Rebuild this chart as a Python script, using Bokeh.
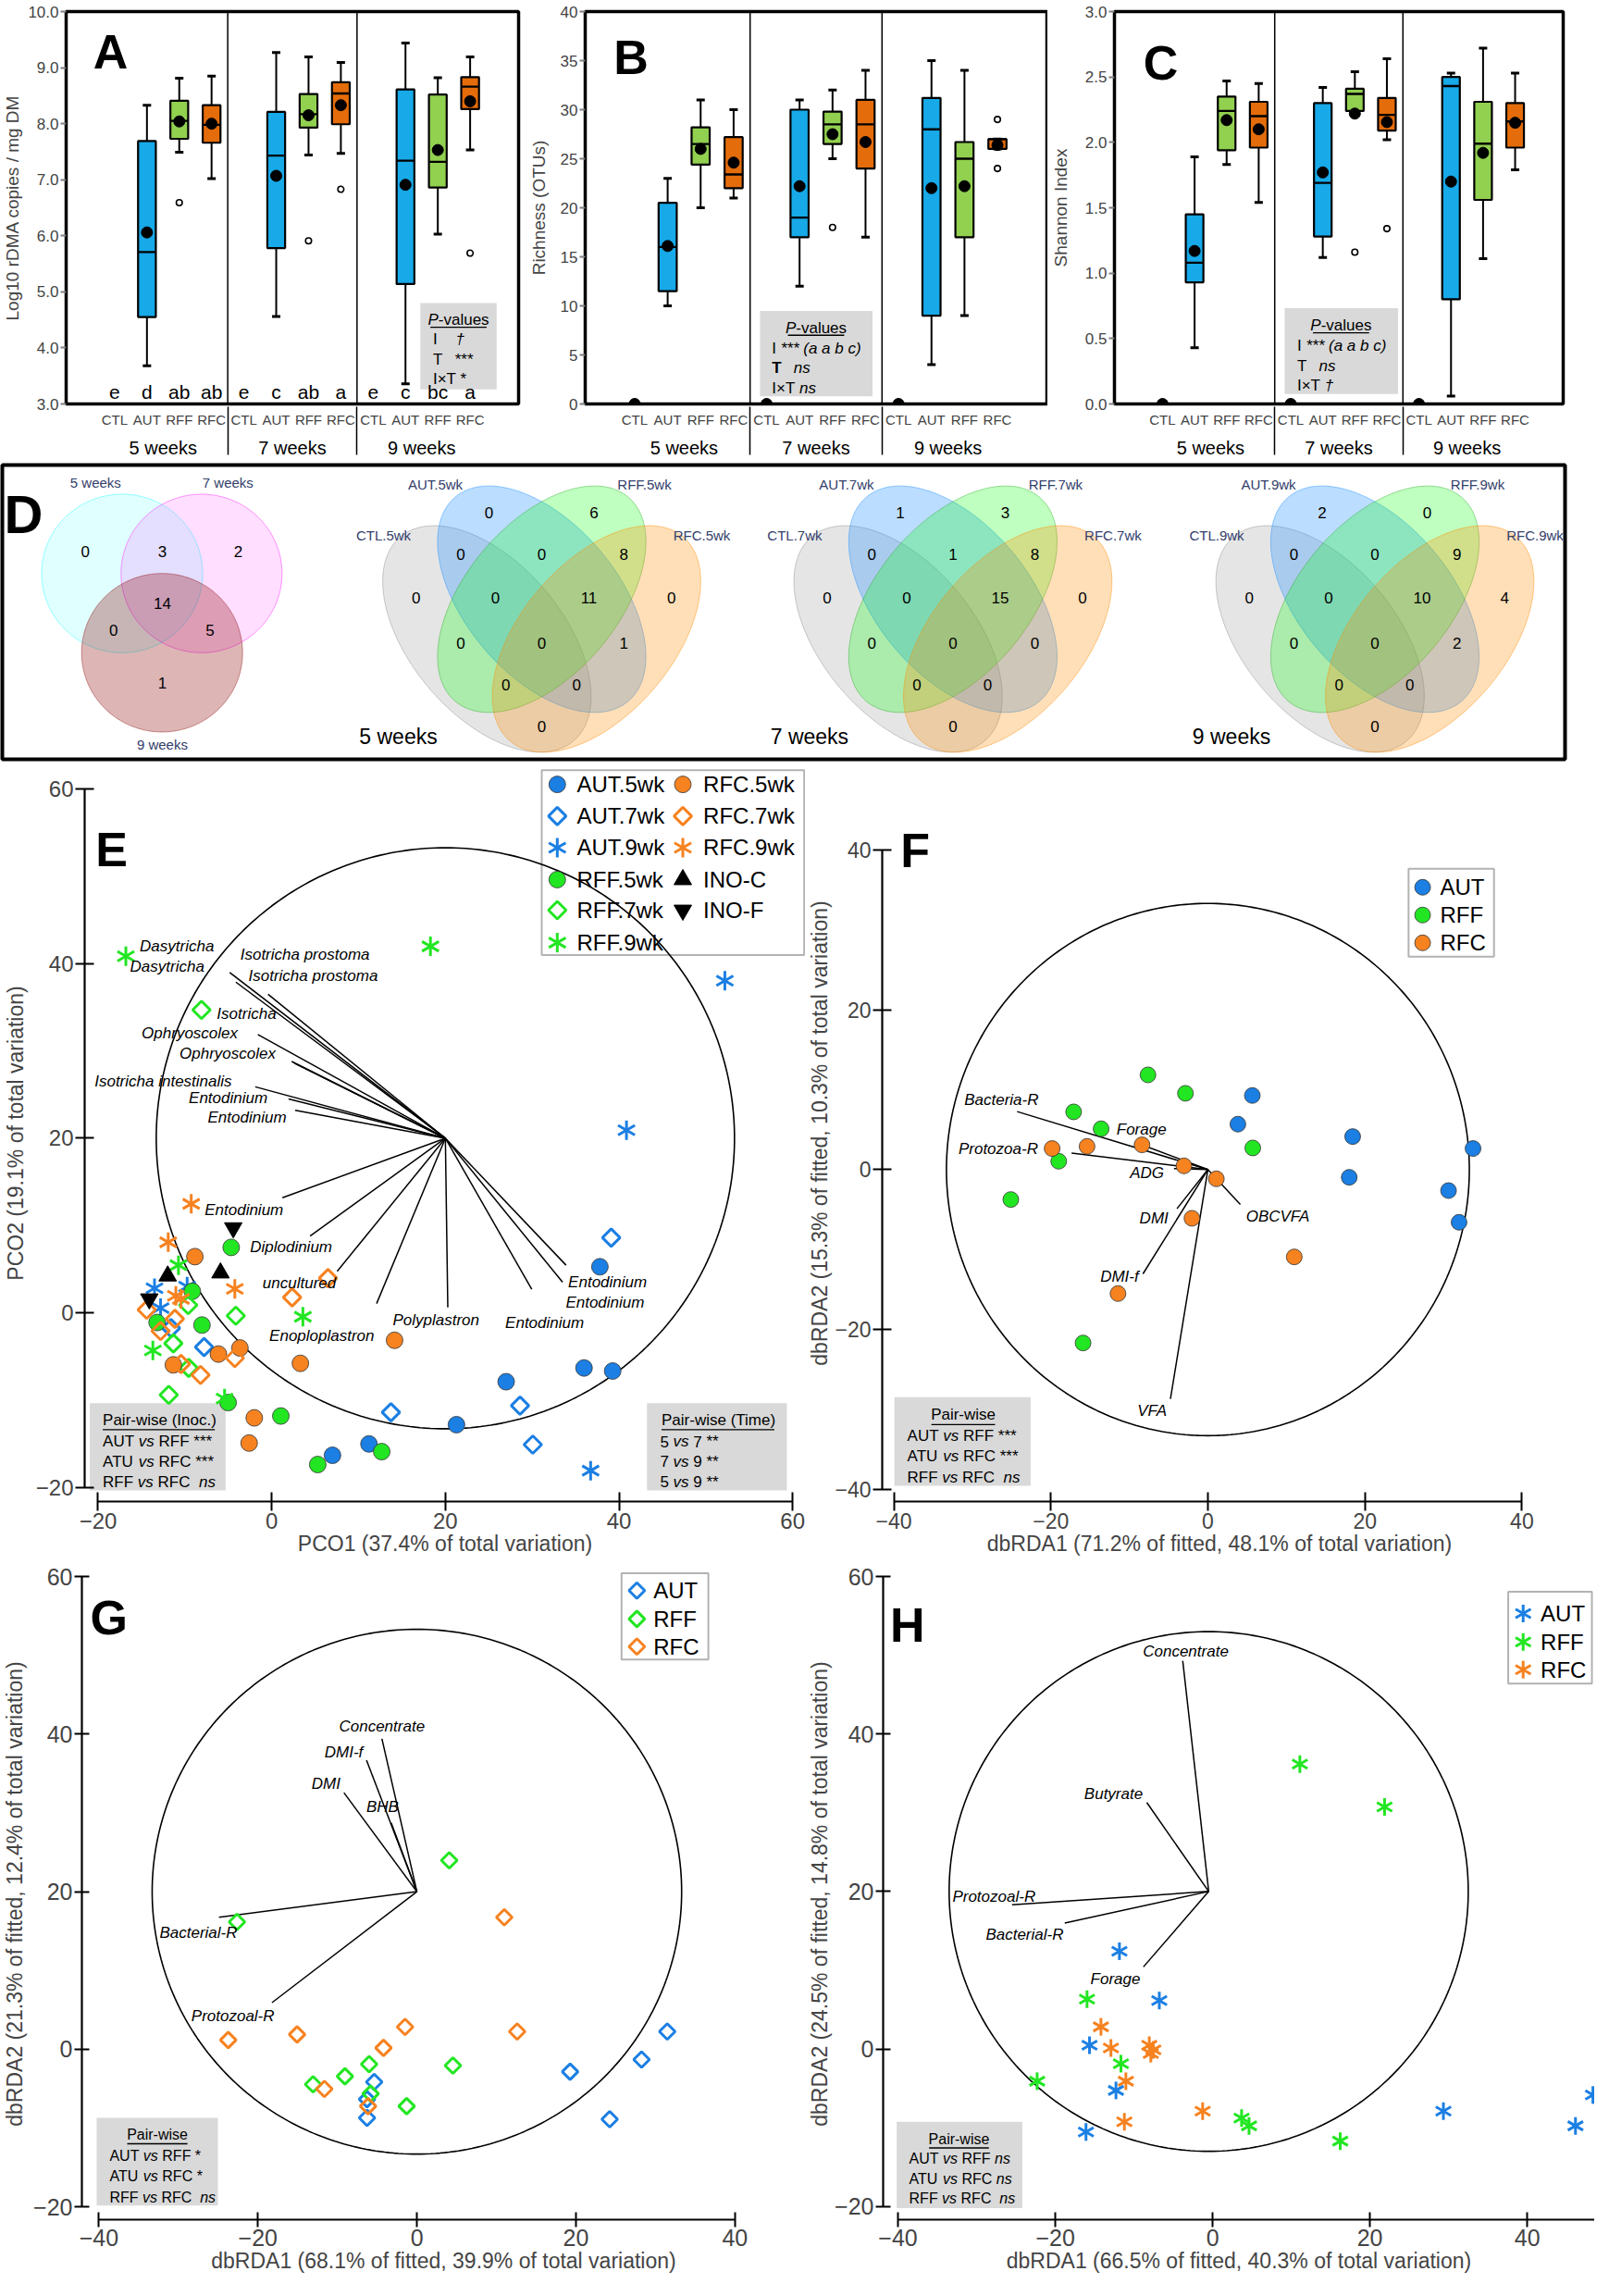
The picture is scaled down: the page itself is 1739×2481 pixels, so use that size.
import numpy as np
from bokeh.plotting import figure
from bokeh.models import (FactorRange, Range1d, FixedTicker, Span, BoxAnnotation,
                          NumeralTickFormatter, ColumnDataSource)
from bokeh.layouts import column, row
from bokeh.embed import file_html
from bokeh.resources import INLINE
from bokeh.core.properties import value

FONT = "Liberation Sans"

# ============================ DATA ============================
WEEKS = ["5 weeks", "7 weeks", "9 weeks"]
GROUPS = ["CTL", "AUT", "RFF", "RFC"]
BOX_GROUPS = ["AUT", "RFF", "RFC"]

# Panel A (order: 5wk AUT,RFF,RFC | 7wk AUT,RFF,RFC | 9wk AUT,RFF,RFC)
A_LO = [3.68, 7.49, 7.02, 4.56, 7.44, 7.47, 3.36, 6.03, 7.53]
A_Q1 = [4.55, 7.73, 7.66, 5.78, 7.93, 7.99, 5.14, 6.86, 8.26]
A_MED = [5.71, 8.05, 7.98, 7.43, 8.17, 8.54, 7.34, 7.32, 8.66]
A_Q3 = [7.69, 8.41, 8.33, 8.21, 8.53, 8.74, 8.61, 8.52, 8.83]
A_HI = [8.33, 8.81, 8.85, 9.27, 9.19, 9.09, 9.44, 8.82, 9.19]
A_MEAN = [6.06, 8.04, 8.00, 7.07, 8.15, 8.33, 6.91, 7.53, 8.40]
A_OUT_WEEK = ["5 weeks", "7 weeks", "7 weeks", "9 weeks"]
A_OUT_GROUP = ["RFF", "RFF", "RFC", "RFC"]
A_OUT_VAL = [6.59, 5.91, 6.83, 5.69]
A_LETTERS = ["e", "d", "ab", "ab", "e", "c", "ab", "a", "e", "c", "bc", "a"]

# Panel B
B_LO = [10, 20, 21, 12, 25, 17, 4, 9, 26]
B_Q1 = [11.5, 24.4, 22.0, 17.0, 26.5, 24.0, 9.0, 17.0, 26.0]
B_MED = [16.0, 26.5, 23.4, 19.0, 28.5, 28.5, 28.0, 25.0, 27.0]
B_Q3 = [20.5, 28.2, 27.2, 30.0, 29.8, 31.0, 31.2, 26.7, 27.0]
B_HI = [23, 31, 30, 31, 32, 34, 35, 34, 27]
B_MEAN = [16.1, 26.0, 24.6, 22.2, 27.5, 26.7, 22.0, 22.2, 26.4]
B_OUT_WEEK = ["7 weeks", "9 weeks", "9 weeks"]
B_OUT_GROUP = ["RFF", "RFC", "RFC"]
B_OUT_VAL = [18, 29, 24]
B_CTL = [0, 0, 0]

# Panel C
C_LO = [0.43, 1.83, 1.54, 1.12, 2.22, 2.02, 0.06, 1.11, 1.79]
C_Q1 = [0.93, 1.94, 1.96, 1.28, 2.24, 2.09, 0.80, 1.56, 1.96]
C_MED = [1.08, 2.24, 2.20, 1.69, 2.37, 2.21, 2.43, 1.99, 2.16]
C_Q3 = [1.45, 2.35, 2.31, 2.30, 2.41, 2.34, 2.50, 2.31, 2.30]
C_HI = [1.89, 2.47, 2.45, 2.42, 2.54, 2.64, 2.53, 2.72, 2.53]
C_MEAN = [1.17, 2.17, 2.10, 1.77, 2.22, 2.155, 1.70, 1.92, 2.15]
C_OUT_WEEK = ["7 weeks", "7 weeks"]
C_OUT_GROUP = ["RFF", "RFC"]
C_OUT_VAL = [1.16, 1.34]
C_CTL = [0, 0, 0]

# Panel D (Venn counts)
V3_SETS = ["5 weeks", "7 weeks", "9 weeks"]
V3_COUNTS = [0, 3, 2, 14, 0, 5, 1]   # 5 only, 5&7, 7 only, all, 5&9, 7&9, 9 only
V4_GROUPS = ["AUT", "RFF", "CTL", "RFC"]
V4_REGIONS = ["AUT", "RFF", "CTL&AUT", "AUT&RFF", "RFF&RFC", "CTL", "CTL&AUT&RFF",
              "AUT&RFF&RFC", "RFC", "CTL&RFF", "ALL", "AUT&RFC", "CTL&RFF&RFC",
              "CTL&AUT&RFC", "CTL&RFC"]
V4_COUNTS = {
    "5": [0, 6, 0, 0, 8, 0, 0, 11, 0, 0, 0, 1, 0, 0, 0],
    "7": [1, 3, 0, 1, 8, 0, 0, 15, 0, 0, 0, 0, 0, 0, 0],
    "9": [2, 0, 0, 0, 9, 0, 0, 10, 4, 0, 0, 2, 0, 0, 0],
}

# Panel E (PCO)
E_AUT5_X = [37.8, 35.97, 39.27, 27.0, 21.28, 11.2, 7.0]
E_AUT5_Y = [5.27, -6.33, -6.68, -7.91, -12.83, -15.04, -16.34]
E_AUT7_X = [39.1, 28.6, 30.07, 13.73, -7.79, -11.6]
E_AUT7_Y = [8.61, -10.65, -15.11, -11.42, -3.94, -1.76]
E_AUT9_X = [52.19, 40.86, 36.73, -13.5, -9.74, -12.8]
E_AUT9_Y = [38.06, 20.92, -18.1, 2.81, 2.99, 0.53]
E_RFF5_X = [-4.67, -9.15, -13.2, -8.03, -5.02, 1.05, 5.3, 12.67]
E_RFF5_Y = [7.49, 2.46, -1.12, -1.41, -10.3, -11.84, -17.4, -15.92]
E_RFF7_X = [-8.09, -9.62, -4.14, -11.33, -9.56, -11.86]
E_RFF7_Y = [34.72, 0.88, -0.35, -3.51, -6.33, -9.42]
E_RFF9_X = [-16.8, 18.28, -10.74, 3.59, -13.69, -5.43]
E_RFF9_Y = [40.87, 42.0, 5.45, -0.46, -4.32, -9.84]
E_RFC5_X = [-8.85, 14.15, -6.14, -3.66, -11.33, 3.3, -2.01, -2.6]
E_RFC5_Y = [6.43, -3.16, -4.74, -4.04, -5.97, -5.8, -12.05, -14.94]
E_RFC7_X = [6.48, 2.35, -14.4, -11.15, -12.8, -4.25, -10.45, -8.2]
E_RFC7_Y = [3.97, 1.76, 0.35, -0.7, -2.1, -5.2, -5.87, -7.13]
E_RFC9_X = [-9.27, -11.92, -4.25, -11.04, -10.45]
E_RFC9_Y = [12.48, 8.08, 2.74, 1.93, 1.58]
E_INOC_X = [-11.98, -5.9]
E_INOC_Y = [4.22, 4.57]
E_INOF_X = [-4.43, -14.1]
E_INOF_Y = [9.73, 1.58]
E_VEC_X = [-4.84, -4.13, -0.42, -1.6, 2.3, 2.6, -1.9, 1.94, 2.7, 1.23, 4.42, 7.54, 12.08, 20.28, 29.95, 33.5, 33.9]
E_VEC_Y = [39.0, 37.9, 36.5, 31.9, 28.8, 28.6, 25.9, 24.5, 23.2, 13.18, 8.79, 4.74, 1.05, 0.6, 2.7, 3.51, 5.45]
E_VEC_NAMES = ["Dasytricha", "Dasytricha", "Isotricha prostoma", "Isotricha prostoma", "Isotricha",
               "Ophryoscolex", "Ophryoscolex", "Isotricha intestinalis", "Entodinium", "Entodinium",
               "Entodinium", "Diplodinium", "uncultured", "Enoploplastron", "Polyplastron",
               "Entodinium", "Entodinium", "Entodinium"]

# Panel F (dbRDA, 5 weeks)
F_AUT_X = [5.66, 3.82, 18.44, 33.77, 18.0, 30.65, 31.99]
F_AUT_Y = [9.27, 5.68, 4.13, 2.63, -0.97, -2.63, -6.6]
F_RFF_X = [-7.63, -2.86, -17.1, -13.6, 5.72, -19.0, -25.1, -15.9]
F_RFF_Y = [11.85, 9.54, 7.22, 5.1, 2.7, 1.04, -3.75, -21.7]
F_RFC_X = [-8.39, -15.39, -19.84, -3.05, 1.08, -2.03, 11.0, -11.45]
F_RFC_Y = [3.09, 2.9, 2.63, 0.46, -1.16, -6.1, -10.93, -15.52]
F_VEC_NAMES = ["Bacteria-R", "Forage", "Protozoa-R", "ADG", "DMI", "DMI-f", "VFA", "OBCVFA"]
F_VEC_X = [-24.3, -8.9, -17.36, -4.32, -3.94, -8.27, -4.77, 4.13]
F_VEC_Y = [7.26, 3.28, 2.05, 0.12, -4.9, -13.05, -28.7, -4.36]

# Panel G (dbRDA, 7 weeks)
G_AUT_X = [31.49, 28.26, 19.27, 24.25, -5.37, -6.27, -6.27]
G_AUT_Y = [2.25, -1.3, -2.84, -8.88, -4.15, -6.34, -8.7]
G_RFF_X = [4.07, -22.63, -6.01, 4.53, -9.05, -13.06, -5.82, -1.29]
G_RFF_Y = [23.98, 16.17, -1.89, -2.07, -3.43, -4.44, -5.63, -7.22]
G_RFC_X = [10.99, -23.73, -15.07, -1.49, 12.61, -4.2, -11.64, -6.14]
G_RFC_Y = [16.76, 1.18, 1.89, 2.84, 2.25, 0.18, -5.03, -7.22]
G_VEC_NAMES = ["Concentrate", "DMI-f", "DMI", "BHB", "Bacterial-R", "Protozoal-R"]
G_VEC_X = [-4.4, -6.34, -9.18, -3.23, -24.9, -18.23]
G_VEC_Y = [39.4, 36.7, 32.57, 28.72, 16.76, 5.92]

# Panel H (dbRDA, 9 weeks)
H_AUT_X = [-11.85, -6.78, -15.65, -12.29, -16.1, 29.34, 46.13, 48.35]
H_AUT_Y = [12.41, 6.15, 0.47, -5.27, -10.54, -7.9, -9.77, -5.85]
H_RFF_X = [11.09, 21.86, -15.97, -11.66, -22.31, 3.68, 4.63, 16.22]
H_RFF_Y = [36.17, 30.73, 6.32, -1.87, -4.1, -8.78, -9.77, -11.71]
H_RFC_X = [-14.2, -12.93, -8.05, -7.54, -7.86, -11.03, -11.22, -1.27]
H_RFC_Y = [2.81, 0.12, 0.47, -0.12, -0.59, -4.1, -9.25, -7.9]
H_VEC_NAMES = ["Concentrate", "Butyrate", "Protozoal-R", "Bacterial-R", "Forage"]
H_VEC_X = [-3.8, -8.37, -25.5, -18.8, -8.8]
H_VEC_Y = [49.3, 31.3, 18.3, 15.98, 10.42]

# ============================ STYLE / LAYOUT ============================
BOX_COLORS = {"AUT": "#17A9E8", "RFF": "#92D050", "RFC": "#E46C0A"}
C_AUT, C_RFF, C_RFC = "#1B7FE3", "#22E622", "#F68220"

AW = {" ": 278, "(": 333, ")": 333, "*": 389, "-": 333, ".": 278, "%": 889, "\u00d7": 584,
      "\u2020": 556, ",": 278}
for _ch in "0123456789":
    AW[_ch] = 556
AW.update(dict(A=667, B=667, C=722, D=722, E=667, F=611, G=778, H=722, I=278, J=500, K=667, L=556,
               M=833, N=722, O=778, P=667, Q=778, R=722, S=667, T=611, U=722, V=667, W=944, X=667,
               Y=667, Z=611))
AW.update(dict(a=556, b=556, c=500, d=556, e=556, f=278, g=556, h=556, i=222, j=222, k=500, l=222,
               m=833, n=556, o=556, p=556, q=556, r=333, s=500, t=278, u=556, v=500, w=722, x=500,
               y=500, z=500))


def text_width(s, size):
    return sum(AW.get(ch, 556) for ch in s) / 1000.0 * size


def new_fig(width, height, bl, bt, fw, fh, x_range, y_range, **kw):
    p = figure(width=width, height=height, x_range=x_range, y_range=y_range,
               output_backend="svg", toolbar_location=None, title=None,
               min_border_left=bl, min_border_right=width - bl - fw,
               min_border_top=bt, min_border_bottom=height - bt - fh, **kw)
    p.xgrid.visible = False
    p.ygrid.visible = False
    p.background_fill_color = "white"
    p.border_fill_color = "white"
    return p


def rich(p, x, y, parts, size, align="left", color="black"):
    """Text made of runs with different font styles; spaces become offsets."""
    total = sum(text_width(t, size) for t, _ in parts)
    sw = text_width(" ", size)
    acc = 0.0 if align == "left" else -total / 2.0
    start = acc
    offs, texts, styles = [], [], []
    for t, s in parts:
        lead = len(t) - len(t.lstrip(" "))
        if t.strip(" "):
            offs.append(acc + lead * sw)
            texts.append(t.strip(" "))
            styles.append(s)
        acc += text_width(t, size)
    src = ColumnDataSource(dict(x=[x] * len(texts), y=[y] * len(texts), t=texts, st=styles, o=offs))
    p.text(x="x", y="y", text="t", x_offset="o", text_font_style="st", source=src,
           text_font=value(FONT), text_font_size=f"{size}px", text_align="left",
           text_baseline="middle", text_color=color)
    return start, total


def uline(p, x, y, off_px, w_px, ppx, ppy, drop_px, lw=1.4):
    x0 = x + off_px / ppx
    x1 = x0 + w_px / ppx
    yy = y - drop_px / ppy
    p.segment(x0=[x0], y0=[yy], x1=[x1], y1=[yy], line_color="black", line_width=lw)


def panel_letter(p, x, y, letter, size=52):
    p.text(x=[x], y=[y], text=[letter], text_font=value(FONT), text_font_style="bold",
           text_font_size=f"{size}px", text_align="left", text_baseline="alphabetic",
           text_color="black")


def gray_box(p, left, right, bottom, top):
    p.add_layout(BoxAnnotation(left=left, right=right, bottom=bottom, top=top,
                               fill_color="#D9D9D9", fill_alpha=1.0, line_color=None,
                               level="underlay"))


# ---------------------------- box panels ----------------------------
def box_panel(width, height, bl, bt, fw, fh, yr, yticks, yfmt, ylabel, ylab_standoff,
              lo, q1, med, q3, hi, mean, out_w, out_g, out_v, ctl_vals):
    factors = [(w, g) for w in WEEKS for g in GROUPS]
    xr = FactorRange(factors=factors, factor_padding=0.0, group_padding=0.0,
                     range_padding=1.0, range_padding_units="absolute")
    p = new_fig(width, height, bl, bt, fw, fh, xr, Range1d(*yr))
    p.outline_line_color = "black"
    p.outline_line_width = 3.5
    for loc in (4.0, 8.0):
        p.add_layout(Span(location=loc, dimension="height", line_color="black", line_width=1.5))
    bx = [(w, g) for w in WEEKS for g in BOX_GROUPS]
    src = ColumnDataSource(dict(x=bx, lo=lo, q1=q1, med=med, q3=q3, hi=hi, mean=mean,
                                c=[BOX_COLORS[g] for _, g in bx]))
    p.segment(x0="x", y0="lo", x1="x", y1="q1", source=src, line_color="black", line_width=2)
    p.segment(x0="x", y0="q3", x1="x", y1="hi", source=src, line_color="black", line_width=2)
    p.vbar(x="x", bottom="q1", top="q3", width=0.55, fill_color="c", line_color="black",
           line_width=2.2, source=src)
    p.rect(x="x", y="med", width=0.55, height=2.4, height_units="screen", fill_color="black",
           line_color=None, source=src)
    for col in ("lo", "hi"):
        p.scatter(x="x", y=col, marker="dash", size=9, line_color="black", line_width=3, source=src)
    p.scatter(x="x", y="mean", marker="circle", size=12, fill_color="black", line_color="black",
              source=src)
    osrc = ColumnDataSource(dict(x=list(zip(out_w, out_g)), y=out_v))
    p.scatter(x="x", y="y", marker="circle", size=6.5, fill_color="white", line_color="black",
              line_width=1.6, source=osrc)
    if ctl_vals is not None:
        csrc = ColumnDataSource(dict(x=[(w, "CTL") for w in WEEKS], y=ctl_vals))
        p.scatter(x="x", y="y", marker="circle", size=12, fill_color="black", line_color="black",
                  source=csrc)
    xa = p.xaxis[0]
    xa.major_label_text_font = FONT
    xa.major_label_text_font_size = "15px"
    xa.major_label_standoff = 8
    xa.group_text_font = FONT
    xa.group_text_font_size = "20px"
    xa.group_text_font_style = "normal"
    xa.group_text_color = "black"
    xa.major_tick_line_color = None
    xa.major_tick_out = 0
    xa.major_tick_in = 0
    xa.axis_line_color = None
    xa.separator_line_color = "black"
    xa.separator_line_width = 1.5
    ya = p.yaxis[0]
    ya.ticker = FixedTicker(ticks=yticks)
    if yfmt:
        ya.formatter = NumeralTickFormatter(format=yfmt)
    ya.axis_line_color = None
    ya.major_tick_out = 6
    ya.major_tick_in = 0
    ya.major_tick_line_color = "#7F7F7F"
    ya.major_tick_line_width = 2
    ya.minor_tick_line_color = None
    ya.major_label_text_font = FONT
    ya.major_label_text_font_size = "17px"
    ya.major_label_standoff = 2
    ya.axis_label = ylabel
    ya.axis_label_text_font = FONT
    ya.axis_label_text_font_size = "19px"
    ya.axis_label_text_font_style = "normal"
    ya.axis_label_standoff = ylab_standoff
    return p


pA = box_panel(568, 497, 66, 10, 494, 427, (3, 10), [3, 4, 5, 6, 7, 8, 9, 10], "0.0",
               "Log10 rDMA copies / mg DM", 3, A_LO, A_Q1, A_MED, A_Q3, A_HI, A_MEAN,
               A_OUT_WEEK, A_OUT_GROUP, A_OUT_VAL, None)
pA.text(x=[(w, g) for w in WEEKS for g in GROUPS], y=[3.21] * 12, text=A_LETTERS,
        text_font=value(FONT), text_font_size="21px", text_align="center",
        text_baseline="middle", text_color="black")
panel_letter(pA, -0.16, 9.28, "A")
gray_box(pA, 9.96, 12.32, 3.26, 4.80)
o, w = rich(pA, 11.14, 4.50, [("P", "italic"), ("-values", "normal")], 17, align="center")
uline(pA, 11.14, 4.50, o, w, 38.0, 61.0, 8)
rich(pA, 10.35, 4.16, [("I", "normal")], 17)
rich(pA, 11.05, 4.16, [("\u2020", "italic")], 17)
rich(pA, 10.35, 3.79, [("T", "normal")], 17)
rich(pA, 11.03, 3.79, [("***", "normal")], 17)
rich(pA, 10.35, 3.45, [("I\u00d7T *", "normal")], 17)

pB = box_panel(564, 497, 59, 10, 504, 427, (0, 40), [0, 5, 10, 15, 20, 25, 30, 35, 40], None,
               "Richness (OTUs)", 10, B_LO, B_Q1, B_MED, B_Q3, B_HI, B_MEAN,
               B_OUT_WEEK, B_OUT_GROUP, B_OUT_VAL, B_CTL)
panel_letter(pB, -0.14, 35.3, "B")
gray_box(pB, 4.30, 7.71, 0.79, 9.48)
o, w = rich(pB, 6.0, 7.75, [("P", "italic"), ("-values", "normal")], 17, align="center")
uline(pB, 6.0, 7.75, o, w, 38.77, 10.675, 8)
rich(pB, 4.66, 5.69, [("I ", "normal"), ("*** (a a b c)", "italic")], 17)
rich(pB, 4.66, 3.64, [("T", "bold")], 17)
rich(pB, 5.32, 3.64, [("ns", "italic")], 17)
rich(pB, 4.66, 1.64, [("I\u00d7T ", "normal"), ("ns", "italic")], 17)

pC = box_panel(591, 497, 66, 12, 491, 427, (0, 3), [0, 0.5, 1, 1.5, 2, 2.5, 3], "0.0",
               "Shannon Index", 13, C_LO, C_Q1, C_MED, C_Q3, C_HI, C_MEAN,
               C_OUT_WEEK, C_OUT_GROUP, C_OUT_VAL, C_CTL)
panel_letter(pC, -0.10, 2.61, "C")
gray_box(pC, 4.31, 7.85, 0.076, 0.732)
o, w = rich(pC, 6.07, 0.60, [("P", "italic"), ("-values", "normal")], 17, align="center")
uline(pC, 6.07, 0.60, o, w, 37.77, 142.3, 8)
rich(pC, 4.70, 0.445, [("I ", "normal"), ("*** (a a b c)", "italic")], 17)
rich(pC, 4.70, 0.291, [("T", "normal")], 17)
rich(pC, 5.38, 0.291, [("ns", "italic")], 17)
rich(pC, 4.70, 0.14, [("I\u00d7T ", "normal"), ("\u2020", "italic")], 17)

# ---------------------------- panel D (Venn diagrams) ----------------------------
pD = new_fig(1723, 327, 2, 5, 1689, 318, Range1d(10, 1699), Range1d(841, 518),
             x_axis_location=None, y_axis_location=None)
pD.outline_line_color = "black"
pD.outline_line_width = 4
TT = np.linspace(0, 2 * np.pi, 241)
V3_CENTERS = [(139.5, 637.0), (225.3, 637.0), (182.7, 724.0)]
V3_R = 87.0
V3_FILL = ["#00FFFF", "#FF00FF", "#8B0000"]
V3_ALPHA = [0.12, 0.13, 0.29]
for (cx, cy), col, al in zip(V3_CENTERS, V3_FILL, V3_ALPHA):
    pD.patch(cx + V3_R * np.cos(TT), cy + V3_R * np.sin(TT), fill_color=col, fill_alpha=al,
             line_color=col, line_alpha=0.4, line_width=1)
V3_COUNT_POS = [(99.8, 612.7), (182.9, 612.7), (264.9, 612.7), (182.9, 670.0), (130.2, 699.3),
                (234.4, 699.3), (182.9, 757.3)]
pD.text(x=[q[0] for q in V3_COUNT_POS], y=[q[1] for q in V3_COUNT_POS],
        text=[str(c) for c in V3_COUNTS], text_font=value(FONT), text_font_size="17px",
        text_align="center", text_baseline="middle", text_color="black")
V3_LABEL_POS = [(110.8, 537.7), (253.8, 537.7), (182.9, 825.0)]
pD.text(x=[q[0] for q in V3_LABEL_POS], y=[q[1] for q in V3_LABEL_POS], text=V3_SETS,
        text_font=value(FONT), text_font_size="15px", text_align="center",
        text_baseline="middle", text_color="#33406B")

V4_CX = {"5": 593.0, "7": 1037.4, "9": 1493.5}
V4_ELL = {"CTL": ((0.35, 0.47), 135), "AUT": ((0.5, 0.57), 135),
          "RFF": ((0.5, 0.57), 45), "RFC": ((0.65, 0.47), 45)}
V4_FILL = {"CTL": ("#BEBEBE", 0.40, "#8C8C8C"), "AUT": ("#1E90FF", 0.30, "#1E90FF"),
           "RFF": ("#00FF00", 0.25, "#33AA33"), "RFC": ("#FF8C00", 0.28, "#FF8C00")}
V4_SX, V4_SY, V4_TOP = 395.0, 436.0, 541.0
V4_COUNT_POS = [(-57, 570), (56.5, 570), (-87.6, 615.7), (0, 615.7), (88.7, 615.7), (-135.8, 664),
                (-49.9, 663.3), (51, 663.3), (140.2, 663.3), (-87.6, 713.3), (0, 713.3),
                (88.7, 713.3), (-38.8, 759.3), (37.7, 759.3), (0, 805)]
V4_LABEL_POS = {"AUT": (-115, 539.3), "RFF": (111, 539.3), "CTL": (-171, 595), "RFC": (173, 595)}
for wk, cxp in V4_CX.items():
    for g in ["CTL", "AUT", "RFF", "RFC"]:
        (u0, v0), ang = V4_ELL[g]
        th = np.radians(ang)
        ex, ey = 0.35 * np.cos(TT), 0.2 * np.sin(TT)
        u = u0 + ex * np.cos(th) - ey * np.sin(th)
        v = v0 + ex * np.sin(th) + ey * np.cos(th)
        fc, fa, lc = V4_FILL[g]
        pD.patch(cxp + (u - 0.5) * V4_SX, V4_TOP + (0.855 - v) * V4_SY, fill_color=fc,
                 fill_alpha=fa, line_color=lc, line_alpha=0.45, line_width=1)
    pD.text(x=[cxp + q[0] for q in V4_COUNT_POS], y=[q[1] for q in V4_COUNT_POS],
            text=[str(c) for c in V4_COUNTS[wk]], text_font=value(FONT), text_font_size="17px",
            text_align="center", text_baseline="middle", text_color="black")
    pD.text(x=[cxp + V4_LABEL_POS[g][0] for g in V4_GROUPS], y=[V4_LABEL_POS[g][1] for g in V4_GROUPS],
            text=[f"{g}.{wk}wk" for g in V4_GROUPS], text_font=value(FONT), text_font_size="15px",
            text_align="center", text_baseline="middle", text_color="#33406B")
    pD.text(x=[cxp - 155], y=[816], text=[f"{wk} weeks"], text_font=value(FONT),
            text_font_size="23px", text_align="center", text_baseline="middle", text_color="black")
panel_letter(pD, 12, 572, "D", size=58)


# ---------------------------- scatter panels ----------------------------
def sc_panel(width, height, bl, bt, fw, fh, xr, yr, xticks, yticks, xb, yb, xlabel, ylabel,
             tick_size, tick_len, lab_size, ylab_standoff):
    p = new_fig(width, height, bl, bt, fw, fh, Range1d(*xr), Range1d(*yr))
    p.outline_line_color = None
    for ax, ticks, b, lab in ((p.xaxis[0], xticks, xb, xlabel), (p.yaxis[0], yticks, yb, ylabel)):
        ax.ticker = FixedTicker(ticks=ticks)
        ax.bounds = b
        ax.axis_line_width = 2.2
        ax.axis_line_color = "black"
        ax.major_tick_in = tick_len
        ax.major_tick_out = tick_len
        ax.major_tick_line_width = 2
        ax.minor_tick_line_color = None
        ax.major_label_text_font = FONT
        ax.major_label_text_font_size = f"{tick_size}px"
        ax.major_label_standoff = 2
        ax.axis_label = lab
        ax.axis_label_text_font = FONT
        ax.axis_label_text_font_size = f"{lab_size}px"
        ax.axis_label_text_font_style = "normal"
        ax.axis_label_standoff = 0
    p.yaxis[0].axis_label_standoff = ylab_standoff
    return p


def markers(p, kind, xs, ys, color, size):
    if kind == "circle":
        p.scatter(xs, ys, marker="circle", size=size, fill_color=color, line_color="#333333",
                  line_width=1, line_alpha=0.8)
    elif kind == "diamond":
        p.scatter(xs, ys, marker="square", angle=np.pi / 4, size=size / 1.414, fill_color=None,
                  line_color=color, line_width=3)
    elif kind == "star":
        for a in (np.pi / 2, np.pi / 6, -np.pi / 6):
            p.scatter(xs, ys, marker="dash", angle=a, size=size, line_color=color, line_width=3)
    elif kind == "tri":
        p.scatter(xs, ys, marker="triangle", size=size, fill_color="black", line_color="black")
    elif kind == "itri":
        p.scatter(xs, ys, marker="inverted_triangle", size=size, fill_color="black",
                  line_color="black")


def eq_circle(p, cx, cy, r):
    tt = np.linspace(0, 2 * np.pi, 361)
    p.line(cx + r * np.cos(tt), cy + r * np.sin(tt), line_color="black", line_width=1.6)


def vectors(p, ox, oy, vx, vy):
    n = len(vx)
    p.segment(x0=[ox] * n, y0=[oy] * n, x1=vx, y1=vy, line_color="black", line_width=1.5)


def vec_labels(p, names, lx, ly, size=17):
    p.text(x=lx, y=ly, text=names, text_font=value(FONT), text_font_style="italic",
           text_font_size=f"{size}px", text_align="center", text_baseline="middle",
           text_color="black")


def legend_box(p, left, right, top, bottom, entries, size=24):
    p.add_layout(BoxAnnotation(left=left, right=right, top=top, bottom=bottom, fill_color="white",
                               fill_alpha=1.0, line_color="black", line_width=2, level="underlay"))
    for label, kind, color, msize, mx, tx, ty in entries:
        markers(p, kind, [mx], [ty], color, msize)
        p.text(x=[tx], y=[ty], text=[label], text_font=value(FONT), text_font_size=f"{size}px",
               text_align="left", text_baseline="middle", text_color="black")


def pair_box(p, box, header, hx, hy, halign, rows, rx, rys, size, ppx, ppy):
    gray_box(p, *box)
    o, w = rich(p, hx, hy, [(header, "normal")], size, align=halign)
    uline(p, hx, hy, o, w, ppx, ppy, size * 0.62)
    for parts, ry in zip(rows, rys):
        rich(p, rx, ry, parts, size)


def vs_row(a, b, tail, tail_style="normal"):
    return [(a + " ", "normal"), ("vs", "italic"), (" " + b + " ", "normal"), (tail, tail_style)]


# ---- E ----
pE = sc_panel(870, 868, 80, 2, 790, 801, (-21.545, 61.47), (-21.64, 62.80),
              [-20, 0, 20, 40, 60], [-20, 0, 20, 40, 60], (-20, 60), (-20, 60),
              "PCO1 (37.4% of total variation)", "PCO2 (19.1% of total variation)", 24, 10, 23, 6)
eq_circle(pE, 20, 20, 33.3)
E_LAB_X = [-10.92, -12.04, 3.83, 4.77, -2.9, -9.44, -5.08, -12.5, -5.02, -2.84, -3.19, 2.23, 3.18,
           5.77, 18.92, 31.43, 38.39, 38.68]
E_LAB_Y = [42.0, 39.72, 41.05, 38.59, 34.27, 31.99, 29.7, 26.5, 24.6, 22.4, 11.77, 7.49, 3.44,
           -2.64, -0.81, -1.16, 1.12, 3.51]
vectors(pE, 20, 20, E_VEC_X, E_VEC_Y)
E_SIZES = {"circle": 18, "diamond": 19, "star": 21, "tri": 19, "itri": 19}
for kind, xs, ys, col in [
        ("circle", E_AUT5_X, E_AUT5_Y, C_AUT), ("diamond", E_AUT7_X, E_AUT7_Y, C_AUT),
        ("star", E_AUT9_X, E_AUT9_Y, C_AUT), ("circle", E_RFF5_X, E_RFF5_Y, C_RFF),
        ("diamond", E_RFF7_X, E_RFF7_Y, C_RFF), ("star", E_RFF9_X, E_RFF9_Y, C_RFF),
        ("circle", E_RFC5_X, E_RFC5_Y, C_RFC), ("diamond", E_RFC7_X, E_RFC7_Y, C_RFC),
        ("star", E_RFC9_X, E_RFC9_Y, C_RFC), ("tri", E_INOC_X, E_INOC_Y, "black"),
        ("itri", E_INOF_X, E_INOF_Y, "black")]:
    markers(pE, kind, xs, ys, col, E_SIZES[kind])
vec_labels(pE, E_VEC_NAMES, E_LAB_X, E_LAB_Y, 17)
ROWS_E = [60.56, 56.93, 53.31, 49.65, 46.14, 42.42]
legend_box(pE, 31.1, 61.33, 62.2, 41.01,
           [(lab, k, c, E_SIZES[k], mx, tx, ty) for (lab, k, c), (mx, tx), ty in zip(
               [("AUT.5wk", "circle", C_AUT), ("AUT.7wk", "diamond", C_AUT), ("AUT.9wk", "star", C_AUT),
                ("RFF.5wk", "circle", C_RFF), ("RFF.7wk", "diamond", C_RFF), ("RFF.9wk", "star", C_RFF),
                ("RFC.5wk", "circle", C_RFC), ("RFC.7wk", "diamond", C_RFC), ("RFC.9wk", "star", C_RFC),
                ("INO-C", "tri", "black"), ("INO-F", "itri", "black")],
               [(32.89, 35.15)] * 6 + [(47.35, 49.7)] * 5, ROWS_E + ROWS_E[:5])])
pair_box(pE, (-20.95, -5.31, -20.38, -10.36), "Pair-wise (Inoc.)", -19.46, -12.29, "left",
         [vs_row("AUT", "RFF", "***"), vs_row("ATU", "RFC", "***"), vs_row("RFF", "RFC", " ns", "italic")],
         -19.46, [-14.76, -17.04, -19.40], 17, 9.516, 9.485)
pair_box(pE, (43.22, 59.33, -20.38, -10.36), "Pair-wise (Time)", 44.9, -12.29, "left",
         [vs_row("5", "7", "**"), vs_row("7", "9", "**"), vs_row("5", "9", "**")],
         44.73, [-14.76, -17.04, -19.40], 17, 9.516, 9.485)
panel_letter(pE, -20.28, 53.1, "E")

# ---- F ----
pF = sc_panel(853, 868, 72, 2, 740, 796, (-41.48, 44.43), (-41.54, 50.64),
              [-40, -20, 0, 20, 40], [-40, -20, 0, 20, 40], (-40, 40), (-40, 40),
              "dbRDA1 (71.2% of fitted, 48.1% of total variation)",
              "dbRDA2 (15.3% of fitted, 10.3% of total variation)", 23, 10, 23, 0)
eq_circle(pF, 0, 0, 33.3)
vectors(pF, 0, 0, F_VEC_X, F_VEC_Y)
for xs, ys, col in [(F_AUT_X, F_AUT_Y, C_AUT), (F_RFF_X, F_RFF_Y, C_RFF), (F_RFC_X, F_RFC_Y, C_RFC)]:
    markers(pF, "circle", xs, ys, col, 17)
vec_labels(pF, F_VEC_NAMES, [-26.3, -8.46, -26.7, -7.76, -6.87, -11.26, -7.12, 8.9],
           [8.69, 5.02, 2.59, -0.39, -6.06, -13.44, -30.2, -5.9], 17)
legend_box(pF, 25.56, 36.44, 37.64, 26.64,
           [("AUT", "circle", C_AUT, 17, 27.35, 29.57, 35.32),
            ("RFF", "circle", C_RFF, 17, 27.35, 29.57, 31.85),
            ("RFC", "circle", C_RFC, 17, 27.35, 29.57, 28.37)])
pair_box(pF, (-39.93, -22.58, -39.57, -28.49), "Pair-wise", -31.16, -30.69, "center",
         [vs_row("AUT", "RFF", "***"), vs_row("ATU", "RFC", "***"), vs_row("RFF", "RFC", " ns", "italic")],
         -38.29, [-33.28, -35.9, -38.53], 17, 8.614, 8.635)
panel_letter(pF, -39.16, 39.95, "F")

# ---- G ----
pG = sc_panel(870, 773, 80, 2, 790, 704, (-42.14, 48.87), (-21.62, 61.06),
              [-40, -20, 0, 20, 40], [-20, 0, 20, 40, 60], (-40, 40), (-20, 60),
              "dbRDA1 (68.1% of fitted, 39.9% of total variation)",
              "dbRDA2 (21.3% of fitted, 12.4% of total variation)", 25, 8, 23, 4)
eq_circle(pG, 0, 20, 33.3)
vectors(pG, 0, 20, G_VEC_X, G_VEC_Y)
for xs, ys, col in [(G_AUT_X, G_AUT_Y, C_AUT), (G_RFF_X, G_RFF_Y, C_RFF), (G_RFC_X, G_RFC_Y, C_RFC)]:
    markers(pG, "diamond", xs, ys, col, 17)
vec_labels(pG, G_VEC_NAMES, [-4.4, -9.2, -11.44, -4.33, -27.48, -23.15],
           [41.0, 37.7, 33.75, 30.8, 14.8, 4.26], 17)
legend_box(pG, 25.74, 36.66, 60.42, 49.46,
           [("AUT", "diamond", C_AUT, 17, 27.67, 29.75, 58.21),
            ("RFF", "diamond", C_RFF, 17, 27.67, 29.75, 54.62),
            ("RFC", "diamond", C_RFC, 17, 27.67, 29.75, 51.11)])
pair_box(pG, (-40.28, -25.03, -19.83, -8.70), "Pair-wise", -32.65, -10.82, "center",
         [vs_row("AUT", "RFF", "*"), vs_row("ATU", "RFC", "*"), vs_row("RFF", "RFC", " ns", "italic")],
         -38.66, [-13.49, -16.09, -18.76], 16, 8.68, 8.515)
panel_letter(pG, -41.08, 54.79, "G")

# ---- H ----
pH = sc_panel(853, 773, 71, 2, 782, 704, (-41.89, 48.57), (-21.68, 61.06),
              [-40, -20, 0, 20, 40], [-20, 0, 20, 40, 60], (-40, 58.1), (-20, 60),
              "dbRDA1 (66.5% of fitted, 40.3% of total variation)",
              "dbRDA2 (24.5% of fitted, 14.8% of total variation)", 25, 8, 23, 0)
eq_circle(pH, -0.5, 20, 33.0)
vectors(pH, -0.5, 20, H_VEC_X, H_VEC_Y)
for xs, ys, col in [(H_AUT_X, H_AUT_Y, C_AUT), (H_RFF_X, H_RFF_Y, C_RFF), (H_RFC_X, H_RFC_Y, C_RFC)]:
    markers(pH, "star", xs, ys, col, 19)
vec_labels(pH, H_VEC_NAMES, [-3.42, -12.6, -27.8, -23.9, -12.36], [50.5, 32.4, 19.3, 14.46, 8.9], 17)
legend_box(pH, 37.58, 48.22, 58.06, 46.41,
           [("AUT", "star", C_AUT, 19, 39.48, 41.7, 55.31),
            ("RFF", "star", C_RFF, 19, 39.48, 41.7, 51.68),
            ("RFC", "star", C_RFC, 19, 39.48, 41.7, 48.17)])
pair_box(pH, (-40.17, -24.2, -20.2, -9.25), "Pair-wise", -32.25, -11.41, "center",
         [vs_row("AUT", "RFF", "ns", "italic"), vs_row("ATU", "RFC", "ns", "italic"),
          vs_row("RFF", "RFC", " ns", "italic")],
         -38.59, [-13.93, -16.51, -19.02], 16, 8.645, 8.509)
panel_letter(pH, -41.0, 53.85, "H")

layout = column(row(pA, pB, pC), pD, row(pE, pF), row(pG, pH))
open("out.html", "w").write(file_html(layout, INLINE, title="Figure"))
